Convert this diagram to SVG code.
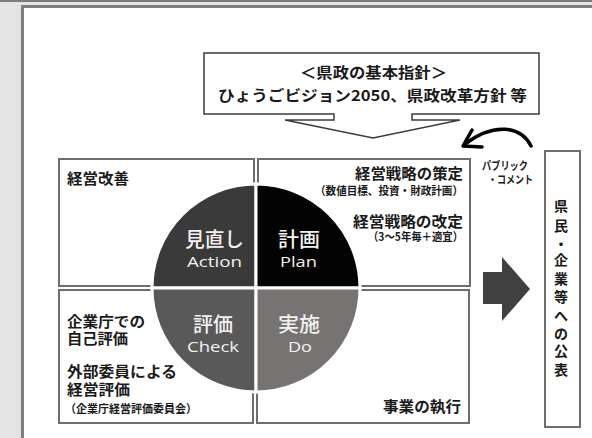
<svg xmlns="http://www.w3.org/2000/svg" width="592" height="438" viewBox="0 0 592 438">
<style>
.lbl{font-family:"Noto Sans CJK JP","Noto Sans",sans-serif;font-weight:700;fill:#1a1a1a;}
.ctr{font-family:"Noto Sans CJK JP","Noto Sans",sans-serif;font-weight:500;fill:#f2f2f2;text-anchor:middle;}
.lat{font-family:"Open Sans","Noto Sans",sans-serif;font-weight:400;fill:#f2f2f2;text-anchor:middle;}
.box{fill:#ffffff;stroke:#6e6e6e;stroke-width:2;}
.q{stroke:#ffffff;stroke-width:3;stroke-linejoin:miter;}
</style>
<rect x="0" y="0" width="592" height="438" fill="#e4e4e4"/>
<rect x="0" y="0" width="592" height="2" fill="#7c7c7c"/>
<rect x="22.5" y="6.5" width="620" height="460" fill="#ffffff" stroke="#808080" stroke-width="3"/>

<g id="policy">
<path d="M204,53 H539 V114 H412 V120 H460 L373,138 L285,120 H334 V114 H204 Z" fill="#ffffff" stroke="#3c3c3c" stroke-width="1.5"/>
<text class="lbl" x="300" y="78" textLength="147" lengthAdjust="spacingAndGlyphs" font-size="15">＜県政の基本指針＞</text>
<text class="lbl" x="218" y="101" textLength="309" lengthAdjust="spacingAndGlyphs" font-size="15">ひょうごビジョン2050、県政改革方針 等</text>
</g>

<g id="box-action">
<rect class="box" x="59" y="159" width="195" height="127"/>
<text class="lbl" x="67" y="184" font-size="15" textLength="62" lengthAdjust="spacingAndGlyphs">経営改善</text>
</g>
<g id="box-plan">
<rect class="box" x="258" y="159" width="212" height="127"/>
<text class="lbl" x="355" y="179" font-size="15" textLength="108" lengthAdjust="spacingAndGlyphs">経営戦略の策定</text>
<text class="lbl" x="315" y="195" font-size="11.5" textLength="148" lengthAdjust="spacingAndGlyphs">（数値目標、投資・財政計画）</text>
<text class="lbl" x="353" y="227" font-size="15" textLength="110" lengthAdjust="spacingAndGlyphs">経営戦略の改定</text>
<text class="lbl" x="368" y="241" font-size="11.5" textLength="95" lengthAdjust="spacingAndGlyphs">（3～5年毎＋適宜）</text>
</g>
<g id="box-check">
<rect class="box" x="59" y="290" width="194" height="133"/>
<text class="lbl" x="67" y="327" font-size="14.5" textLength="78" lengthAdjust="spacingAndGlyphs">企業庁での</text>
<text class="lbl" x="67" y="344" font-size="14.5" textLength="61" lengthAdjust="spacingAndGlyphs">自己評価</text>
<text class="lbl" x="67" y="377" font-size="14.5" textLength="110" lengthAdjust="spacingAndGlyphs">外部委員による</text>
<text class="lbl" x="67" y="395" font-size="14.5" textLength="63" lengthAdjust="spacingAndGlyphs">経営評価</text>
<text class="lbl" x="65" y="413" font-size="11.5" textLength="132" lengthAdjust="spacingAndGlyphs">（企業庁経営評価委員会）</text>
</g>
<g id="box-do">
<rect class="box" x="257" y="290" width="212" height="133"/>
<text class="lbl" x="383" y="412" font-size="15" textLength="78" lengthAdjust="spacingAndGlyphs">事業の執行</text>
</g>

<g id="cycle">
<path class="q" d="M256,288 V184 A104,104 0 0 0 152,288 Z" fill="#3a3a3a"/>
<path class="q" d="M256,288 H360 A104,104 0 0 0 256,184 Z" fill="#030303"/>
<path class="q" d="M256,288 H152 A104,104 0 0 0 256,392 Z" fill="#595959"/>
<path class="q" d="M256,288 V392 A104,104 0 0 0 360,288 Z" fill="#777373"/>
<text class="ctr" x="214.5" y="247" font-size="20" textLength="59" lengthAdjust="spacingAndGlyphs">見直し</text>
<text class="lat" x="214.5" y="267" font-size="15" textLength="55" lengthAdjust="spacingAndGlyphs">Action</text>
<text class="ctr" x="299" y="247" font-size="20" textLength="42" lengthAdjust="spacingAndGlyphs">計画</text>
<text class="lat" x="298.5" y="267" font-size="15" textLength="37" lengthAdjust="spacingAndGlyphs">Plan</text>
<text class="ctr" x="213" y="332" font-size="20" textLength="40" lengthAdjust="spacingAndGlyphs">評価</text>
<text class="lat" x="213" y="352" font-size="15" textLength="52" lengthAdjust="spacingAndGlyphs">Check</text>
<text class="ctr" x="299" y="332" font-size="20" textLength="42" lengthAdjust="spacingAndGlyphs">実施</text>
<text class="lat" x="300" y="352" font-size="15" textLength="24" lengthAdjust="spacingAndGlyphs">Do</text>
</g>

<g id="public">
<rect x="545" y="151" width="35" height="276" fill="#ffffff" stroke="#6e6e6e" stroke-width="2"/>
<g class="lbl" font-size="14" text-anchor="middle">
<text x="561" y="211">県</text>
<text x="561" y="231">民</text>
<text x="561" y="249">・</text>
<text x="561" y="265">企</text>
<text x="561" y="284">業</text>
<text x="561" y="302">等</text>
<text x="561" y="321">へ</text>
<text x="561" y="339">の</text>
<text x="561" y="356">公</text>
<text x="561" y="375">表</text>
</g>
</g>

<g id="connectors">
<path d="M483,272 H502 V257 L530,289 L502,321 V304 H483 Z" fill="#404040"/>
<path d="M531,146 C521,126 494,122 465,144" fill="none" stroke="#000" stroke-width="3.5" stroke-linecap="round"/>
<path d="M472,130 L463,146 L482,147" fill="none" stroke="#000" stroke-width="3.5" stroke-linecap="round" stroke-linejoin="round"/>
<text class="lbl" x="482" y="170" font-size="11" textLength="46" lengthAdjust="spacingAndGlyphs">パブリック</text>
<text class="lbl" x="488" y="184" font-size="11" textLength="45" lengthAdjust="spacingAndGlyphs">・コメント</text>
</g>
</svg>
